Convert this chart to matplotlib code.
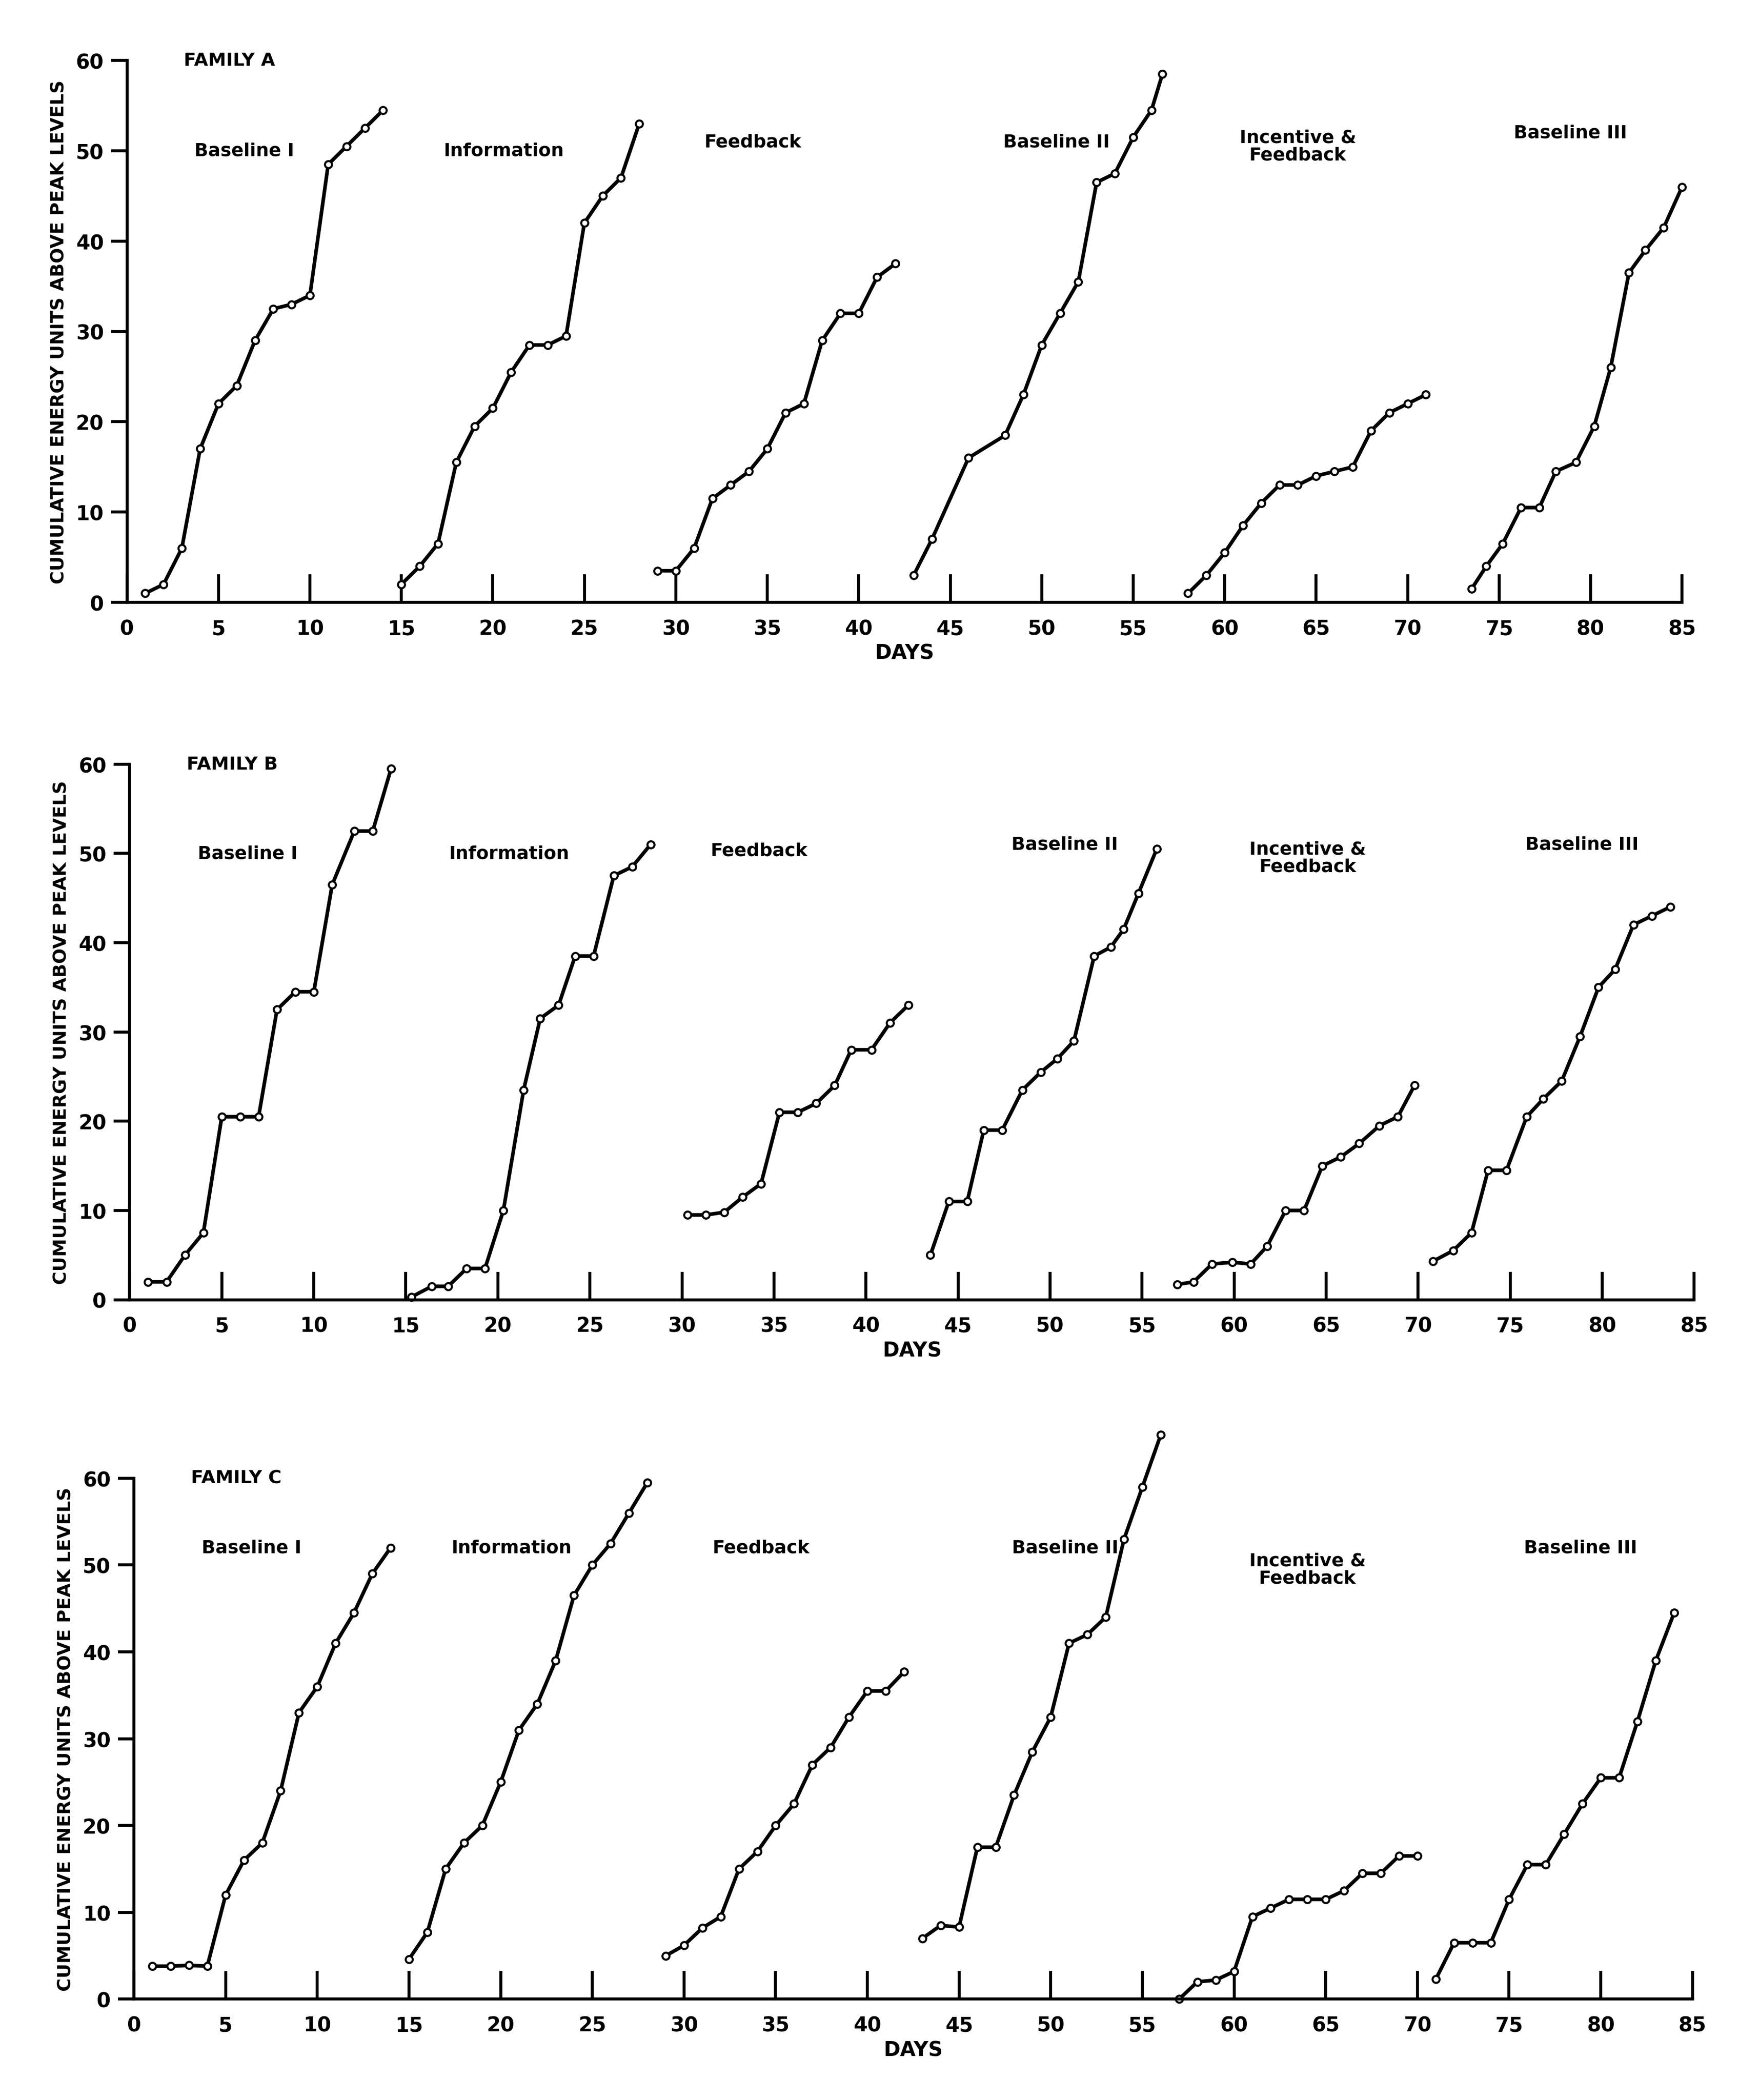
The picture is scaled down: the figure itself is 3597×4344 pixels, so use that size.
import matplotlib.pyplot as plt

# phase names shown above each curve
phases = ["Baseline I", "Information", "Feedback", "Baseline II", "Incentive &\nFeedback", "Baseline III"]

# Family A: (days, cumulative units) per phase
a_days = [
    list(range(1, 15)),
    list(range(15, 29)),
    list(range(29, 43)),
    [43, 44, 46, 48, 49, 50, 51, 52, 53, 54, 55, 56, 56.6],
    list(range(58, 72)),
    [73.5, 74.3, 75.2, 76.2, 77.2, 78.1, 79.2, 80.2, 81.1, 82.1, 83, 84, 85],
]
a_vals = [
    [1, 2, 6, 17, 22, 24, 29, 32.5, 33, 34, 48.5, 50.5, 52.5, 54.5],
    [2, 4, 6.5, 15.5, 19.5, 21.5, 25.5, 28.5, 28.5, 29.5, 42, 45, 47, 53],
    [3.5, 3.5, 6, 11.5, 13, 14.5, 17, 21, 22, 29, 32, 32, 36, 37.5],
    [3, 7, 16, 18.5, 23, 28.5, 32, 35.5, 46.5, 47.5, 51.5, 54.5, 58.5],
    [1, 3, 5.5, 8.5, 11, 13, 13, 14, 14.5, 15, 19, 21, 22, 23],
    [1.5, 4, 6.5, 10.5, 10.5, 14.5, 15.5, 19.5, 26, 36.5, 39, 41.5, 46],
]

# Family B
b_days = [
    [1, 2, 3, 4, 5, 6, 7, 8, 9, 10, 11, 12.2, 13.2, 14.2],
    [15.3, 16.4, 17.3, 18.3, 19.3, 20.3, 21.4, 22.3, 23.3, 24.2, 25.2, 26.3, 27.3, 28.3],
    [30.3, 31.3, 32.3, 33.3, 34.3, 35.3, 36.3, 37.3, 38.3, 39.2, 40.3, 41.3, 42.3],
    [43.5, 44.5, 45.5, 46.4, 47.4, 48.5, 49.5, 50.4, 51.3, 52.4, 53.3, 54, 54.8, 55.8],
    [56.9, 57.8, 58.8, 59.9, 60.9, 61.8, 62.8, 63.8, 64.8, 65.8, 66.8, 67.9, 68.9, 69.8],
    [70.8, 71.9, 72.9, 73.8, 74.8, 75.9, 76.8, 77.8, 78.8, 79.8, 80.7, 81.7, 82.7, 83.7],
]
b_vals = [
    [2, 2, 5, 7.5, 20.5, 20.5, 20.5, 32.5, 34.5, 34.5, 46.5, 52.5, 52.5, 59.5],
    [0.3, 1.5, 1.5, 3.5, 3.5, 10, 23.5, 31.5, 33, 38.5, 38.5, 47.5, 48.5, 51],
    [9.5, 9.5, 9.8, 11.5, 13, 21, 21, 22, 24, 28, 28, 31, 33],
    [5, 11, 11, 19, 19, 23.5, 25.5, 27, 29, 38.5, 39.5, 41.5, 45.5, 50.5],
    [1.7, 2, 4, 4.2, 4, 6, 10, 10, 15, 16, 17.5, 19.5, 20.5, 24],
    [4.3, 5.5, 7.5, 14.5, 14.5, 20.5, 22.5, 24.5, 29.5, 35, 37, 42, 43, 44],
]

# Family C
c_days = [
    list(range(1, 15)),
    list(range(15, 29)),
    list(range(29, 43)),
    list(range(43, 57)),
    list(range(57, 71)),
    list(range(71, 85)),
]
c_vals = [
    [3.8, 3.8, 3.9, 3.8, 12, 16, 18, 24, 33, 36, 41, 44.5, 49, 52],
    [4.6, 7.7, 15, 18, 20, 25, 31, 34, 39, 46.5, 50, 52.5, 56, 59.5],
    [5, 6.2, 8.2, 9.5, 15, 17, 20, 22.5, 27, 29, 32.5, 35.5, 35.5, 37.7],
    [7, 8.5, 8.3, 17.5, 17.5, 23.5, 28.5, 32.5, 41, 42, 44, 53, 59, 65],
    [0, 2, 2.2, 3.2, 9.5, 10.5, 11.5, 11.5, 11.5, 12.5, 14.5, 14.5, 16.5, 16.5],
    [2.3, 6.5, 6.5, 6.5, 11.5, 15.5, 15.5, 19, 22.5, 25.5, 25.5, 32, 39, 44.5],
]

families = [
    ("FAMILY A", a_days, a_vals, [0.073, 0.713, 0.894, 0.258]),
    ("FAMILY B", b_days, b_vals, [0.0746, 0.381, 0.8994, 0.255]),
    ("FAMILY C", c_days, c_vals, [0.077, 0.048, 0.896, 0.248]),
]
label_x = [6.4, 20.6, 34.2, 50.8, 64.0, 78.9]
label_y = [[50, 50, 51, 51, 50.5, 52], [50, 50, 50.3, 51, 49.5, 51], [52, 52, 52, 52, 49.5, 52]]

plt.rcParams['font.family'] = 'DejaVu Sans'
plt.rcParams['font.weight'] = 'bold'
fig = plt.figure(figsize=(11.993, 14.483), dpi=300)

for k, (name, days, vals, pos) in enumerate(families):
    ax = fig.add_axes(pos)
    for d, v in zip(days, vals):
        ax.plot(d, v, color='black', lw=1.8, marker='o', ms=3.5,
                mfc='white', mec='black', mew=1.0, clip_on=False)
    for i, p in enumerate(phases):
        ax.text(label_x[i], label_y[k][i], p, ha='center', va='center',
                fontsize=9, fontweight='bold', linespacing=1.0)
    ax.text(3.1, 60, name, ha='left', va='center', fontsize=9, fontweight='bold')
    ax.set_xlim(0, 85)
    ax.set_ylim(0, 60)
    ax.spines['top'].set_visible(False)
    ax.spines['right'].set_visible(False)
    ax.spines['left'].set_linewidth(1.5)
    ax.spines['bottom'].set_linewidth(1.5)
    ax.set_xticks(range(0, 86, 5))
    ax.set_yticks(range(0, 61, 10))
    ax.tick_params(axis='x', direction='in', length=14, width=1.5, labelsize=10, pad=8)
    ax.tick_params(axis='y', direction='out', length=8, width=1.5, labelsize=10)
    for lab in ax.get_xticklabels() + ax.get_yticklabels():
        lab.set_fontweight('bold')
    ax.set_xlabel("DAYS", fontsize=10, fontweight='bold', labelpad=2)
    ax.set_ylabel("CUMULATIVE ENERGY UNITS ABOVE PEAK LEVELS", fontsize=9, fontweight='bold')

fig.savefig("out.png", dpi=300)
